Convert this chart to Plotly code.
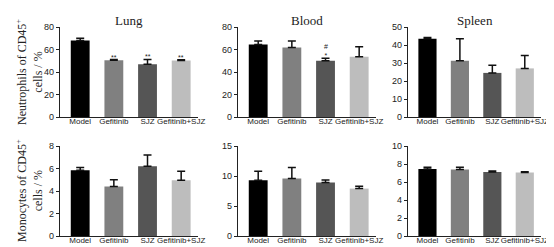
import plotly.graph_objects as go

groups = ["Model", "Gefitinib", "SJZ", "Gefitinib+SJZ"]
colors = ["#000000", "#808080", "#555555", "#bdbdbd"]

tissues = ["Lung", "Blood", "Spleen"]

neut_mean = {"Lung": [68, 50.5, 47, 50.2], "Blood": [64.5, 61.8, 50, 53.5], "Spleen": [43.5, 31.2, 24.5, 27]}
neut_err = {"Lung": [2, 0.6, 4.2, 0.6], "Blood": [3, 5.8, 2.2, 9], "Spleen": [0.7, 12.3, 4.3, 7.2]}
mono_mean = {"Lung": [5.85, 4.4, 6.2, 4.95], "Blood": [9.3, 9.6, 8.9, 7.9], "Spleen": [7.45, 7.4, 7.12, 7.05]}
mono_err = {"Lung": [0.25, 0.6, 1.0, 0.8], "Blood": [1.5, 1.8, 0.45, 0.4], "Spleen": [0.2, 0.25, 0.1, 0.1]}

neut_max = {"Lung": 80, "Blood": 80, "Spleen": 50}
neut_dtick = {"Lung": 20, "Blood": 20, "Spleen": 10}
mono_max = {"Lung": 8, "Blood": 15, "Spleen": 10}
mono_dtick = {"Lung": 2, "Blood": 5, "Spleen": 2}

# significance marks: (tissue, group, text)
neut_sig = [("Lung", "Gefitinib", "**"), ("Lung", "SJZ", "**"), ("Lung", "Gefitinib+SJZ", "**"),
            ("Blood", "SJZ", "#<br>*")]

W, H = 554, 247
x_dom = [(52, 190), (230, 368), (400, 533)]
y_dom_top = (19, 109)
y_dom_bot = (138, 228)

def px_x(a, b):
    return [a / W, b / W]

def px_y(top, bot):
    return [1 - bot / H, 1 - top / H]

fig = go.Figure()
tick_font = dict(family="Liberation Sans, Arial", size=9, color="#222")
xtick_font = dict(family="Liberation Sans, Arial", size=8, color="#222")
layout = {}
idx = 0
for row, (means, errs, ymax, dtick, ydom) in enumerate([
        (neut_mean, neut_err, neut_max, neut_dtick, y_dom_top),
        (mono_mean, mono_err, mono_max, mono_dtick, y_dom_bot)]):
    for col, t in enumerate(tissues):
        idx += 1
        xa = "x" if idx == 1 else f"x{idx}"
        ya = "y" if idx == 1 else f"y{idx}"
        fig.add_trace(go.Bar(
            x=groups, y=means[t], xaxis=xa, yaxis=ya,
            marker=dict(color=colors, line=dict(width=0)),
            error_y=dict(type="data", symmetric=False, array=errs[t],
                         arrayminus=[0] * 4, color="#111", thickness=1.5, width=4),
            width=0.56, showlegend=False))
        layout[f"xaxis{'' if idx == 1 else idx}"] = dict(
            domain=px_x(*x_dom[col]), anchor=ya, type="category",
            showline=True, linecolor="#222", linewidth=1.3, ticks="",
            tickfont=xtick_font, tickangle=0, ticklabelstandoff=-4,
            ticklabeloverflow="allow",
            showgrid=False, automargin=False, range=[-0.6, 3.5])
        layout[f"yaxis{'' if idx == 1 else idx}"] = dict(
            domain=px_y(*ydom), anchor=xa, range=[0, ymax[t]], dtick=dtick[t],
            showline=True, linecolor="#222", linewidth=1.3, ticks="outside",
            ticklen=3, tickwidth=1.2, tickcolor="#222", tickfont=tick_font,
            showgrid=False, zeroline=False, automargin=False)

ann = []
for col, t in enumerate(tissues):
    ann.append(dict(text=t, x=(x_dom[col][0] + x_dom[col][1]) / 2 / W, y=1 - 13 / H,
                    xref="paper", yref="paper", showarrow=False, xanchor="center",
                    yanchor="middle",
                    font=dict(family="Liberation Serif, Times New Roman", size=13, color="#222")))

for t, g, s in neut_sig:
    col = tissues.index(t)
    idx = col + 1
    xa = "x" if idx == 1 else f"x{idx}"
    ya = "y" if idx == 1 else f"y{idx}"
    i = groups.index(g)
    ann.append(dict(text=s, x=g, y=neut_mean[t][i] + neut_err[t][i], xref=xa, yref=ya,
                    yanchor="bottom", showarrow=False, yshift=-3,
                    font=dict(family="Liberation Sans, Arial", size=7, color="#222")))

ylab_font = dict(family="Liberation Serif, Times New Roman", size=12, color="#222")
ann.append(dict(text="Neutrophils of CD45<sup>+</sup><br>cells / %", x=21 / W, y=1 - 64 / H,
                xref="paper", yref="paper", showarrow=False, textangle=-90,
                xanchor="center", yanchor="middle", font=ylab_font))
ann.append(dict(text="Monocytes of CD45<sup>+</sup><br>cells / %", x=21 / W, y=1 - 183 / H,
                xref="paper", yref="paper", showarrow=False, textangle=-90,
                xanchor="center", yanchor="middle", font=ylab_font))

fig.update_layout(**layout)
fig.update_layout(width=W, height=H, margin=dict(l=0, r=0, t=0, b=0),
                  plot_bgcolor="white", paper_bgcolor="white", annotations=ann, bargap=0.4)
fig.write_html("out.html")
